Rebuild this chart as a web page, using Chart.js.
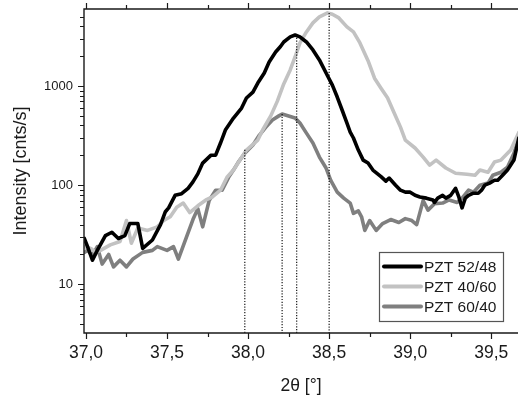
<!DOCTYPE html>
<html>
<head>
<meta charset="utf-8">
<script src="https://cdn.jsdelivr.net/npm/chart.js@4"></script>
<style>
  html, body { margin: 0; padding: 0; background: #fff; }
  #wrap { width: 518px; height: 400px; position: relative; }
</style>
</head>
<body>
<div id="wrap"><canvas id="xrd"></canvas></div>
<script>
// PZT 52/48
const angles5248 = [36.99,37.01,37.04,37.07,37.12,37.16,37.20,37.24,37.27,37.32,37.35,37.41,37.46,37.49,37.51,37.55,37.59,37.63,37.66,37.69,37.72,37.77,37.80,37.83,37.86,37.91,37.96,37.99,38.03,38.06,38.10,38.13,38.17,38.20,38.22,38.26,38.29,38.32,38.36,38.40,38.44,38.49,38.52,38.55,38.58,38.61,38.63,38.65,38.68,38.71,38.74,38.77,38.82,38.85,38.87,38.91,38.94,38.97,39.00,39.03,39.06,39.10,39.14,39.15,39.17,39.20,39.22,39.25,39.28,39.30,39.32,39.34,39.36,39.39,39.42,39.44,39.46,39.49,39.52,39.54,39.57,39.60,39.64,39.67];
const counts5248 = [29,24,17.5,22,31,33.5,29,31,41,41,23,28,40,54,59,79,82,93,108,130,167,200,201,266,360,475,600,757,869,1072,1353,1750,2200,2500,2780,3130,3270,3130,2780,2310,1833,1270,1020,774,573,423,343,299,226,179,167,142,122,110,118,100,89,85,85,79,76,74,71,67,74,79,74,79,93,76,59,74,79,83,83,89,100,105,112,112,126,142,179,300];

// PZT 40/60
const angles4060 = [36.99,37.03,37.06,37.09,37.15,37.21,37.25,37.28,37.32,37.38,37.44,37.48,37.52,37.56,37.60,37.64,37.69,37.74,37.78,37.83,37.87,37.91,37.95,37.99,38.06,38.09,38.14,38.18,38.22,38.26,38.29,38.32,38.36,38.40,38.44,38.49,38.52,38.56,38.61,38.65,38.69,38.74,38.78,38.82,38.86,38.90,38.94,38.97,39.03,39.08,39.12,39.16,39.22,39.28,39.35,39.40,39.43,39.48,39.52,39.56,39.62,39.67];
const counts4060 = [24,23,21,22,25,27,44,26,37,35,38,44,48,60,66,53,62,71,76,89,120,142,179,226,285,360,500,700,1050,1452,1963,2720,3510,4330,4980,5460,5300,4860,3950,3510,2720,1800,1200,950,760,540,385,285,237,192,159,179,149,132,129,126,142,135,171,179,226,340];

// PZT 60/40
const angles6040 = [36.99,37.01,37.04,37.07,37.10,37.14,37.17,37.21,37.25,37.29,37.35,37.41,37.44,37.50,37.54,37.57,37.62,37.66,37.69,37.72,37.76,37.80,37.84,37.88,37.91,37.94,37.98,38.03,38.07,38.11,38.15,38.19,38.21,38.25,38.29,38.32,38.36,38.40,38.44,38.48,38.51,38.55,38.59,38.63,38.65,38.68,38.70,38.72,38.75,38.79,38.83,38.88,38.93,38.97,39.01,39.04,39.08,39.11,39.15,39.20,39.24,39.29,39.32,39.36,39.39,39.43,39.48,39.51,39.56,39.60,39.64,39.67];
const counts6040 = [21,22,19.6,24,16,20,15,17.5,15,18,21,22,24,22,24,18,30,45,58,38,70,89,89,120,142,171,210,254,320,385,454,500,521,498,475,423,335,266,192,150,112,85,74,66,52,55,48,35,44,35,41,45,42,46,44,40,70,56,65,66,71,67,74,89,85,100,105,126,135,152,210,300];

// dotted peak markers
const peakAngles = [37.98, 38.21, 38.30, 38.50];
const peakCounts = [228, 521, 3270, 5460];

const seriesLabels = ['PZT 52/48', 'PZT 40/60', 'PZT 60/40'];
const seriesColors = ['#000000', '#c2c2c2', '#7f7f7f'];
const xTicks = [37.0, 37.5, 38.0, 38.5, 39.0, 39.5];
const yTicks = [10, 100, 1000];

const X_MIN = 36.988, X_MAX = 39.665;
const Y_MIN = 3.23, Y_MAX = 5980;
const FONT = "'Liberation Sans', Arial, sans-serif";
const INK = '#1a1a1a';

Chart.defaults.font.family = FONT;
Chart.defaults.color = INK;

const toPoints = (xs, ys) => xs.map((a, i) => ({ x: a, y: ys[i] }));

const curves = [
  toPoints(angles5248, counts5248),
  toPoints(angles4060, counts4060),
  toPoints(angles6040, counts6040)
].map((pts, i) => ({
  label: seriesLabels[i],
  data: pts,
  borderColor: seriesColors[i],
  borderWidth: 3.6,
  borderJoinStyle: 'round',
  borderCapStyle: 'round',
  pointRadius: 0,
  tension: 0,
  order: i + 1
}));

const markers = peakAngles.map((a, i) => ({
  label: 'peak',
  data: [{ x: a, y: peakCounts[i] }, { x: a, y: Y_MIN }],
  borderColor: '#000',
  borderWidth: 1.1,
  borderDash: [1.2, 1.6],
  pointRadius: 0,
  order: 0
}));

// frame, outward tick marks and boxed legend
const framePlugin = {
  id: 'frame',
  afterDraw(chart) {
    const { ctx, chartArea: a, scales: { x, y } } = chart;
    ctx.save();
    ctx.strokeStyle = INK;
    ctx.lineWidth = 1.4;
    ctx.beginPath();
    ctx.moveTo(a.right, a.top); ctx.lineTo(a.left, a.top);
    ctx.lineTo(a.left, a.bottom); ctx.lineTo(a.right, a.bottom);
    ctx.stroke();

    ctx.lineWidth = 1.2;
    ctx.beginPath();
    for (let v = 37.0; v < X_MAX; v += 0.25) {
      const px = Math.round(x.getPixelForValue(v)) + 0.5;
      const major = Math.abs(v * 2 - Math.round(v * 2)) < 1e-6;
      const len = major ? 6 : 4;
      ctx.moveTo(px, a.bottom); ctx.lineTo(px, a.bottom + len);
      ctx.moveTo(px, a.top); ctx.lineTo(px, a.top - len);
    }
    for (let d = 1; d <= 1000; d *= 10) {
      for (let m = 1; m <= 9; m++) {
        const v = m * d;
        if (v < Y_MIN || v > Y_MAX) continue;
        const py = Math.round(y.getPixelForValue(v)) + 0.5;
        const len = m === 1 ? 6 : 4;
        ctx.moveTo(a.left, py); ctx.lineTo(a.left - len, py);
      }
    }
    ctx.stroke();

    // legend box
    const bw = 124, bh = 69;
    const bx = a.right - 15 - bw, by = a.bottom - 12 - bh;
    ctx.fillStyle = '#fff';
    ctx.fillRect(bx, by, bw, bh);
    ctx.strokeStyle = '#555';
    ctx.lineWidth = 1.2;
    ctx.strokeRect(bx + 0.5, by + 0.5, bw, bh);
    ctx.font = '15.5px ' + FONT;
    ctx.textBaseline = 'middle';
    seriesLabels.forEach((lab, i) => {
      const ry = by + 14.5 + i * 20;
      ctx.strokeStyle = seriesColors[i];
      ctx.lineWidth = 4;
      ctx.lineCap = 'round';
      ctx.beginPath();
      ctx.moveTo(bx + 5, ry); ctx.lineTo(bx + 42, ry);
      ctx.stroke();
      ctx.fillStyle = INK;
      ctx.fillText(lab, bx + 45, ry + 1);
    });
    ctx.restore();
  }
};

new Chart(document.getElementById('xrd'), {
  type: 'line',
  data: { datasets: [...curves, ...markers] },
  options: {
    responsive: true,
    maintainAspectRatio: false,
    animation: false,
    layout: { padding: { top: 9, right: 0, bottom: 0, left: 0 } },
    plugins: { legend: { display: false }, tooltip: { enabled: false } },
    scales: {
      x: {
        type: 'linear',
        min: X_MIN,
        max: X_MAX,
        grid: { display: false, drawTicks: false },
        border: { display: false },
        afterBuildTicks: s => { s.ticks = xTicks.map(v => ({ value: v })); },
        afterFit: s => { s.height = 67; s.paddingLeft = 0; s.paddingRight = 0; },
        ticks: {
          padding: 10,
          maxRotation: 0,
          font: { size: 17.5 },
          color: INK,
          callback: v => v.toFixed(1).replace('.', ',')
        },
        title: {
          display: true,
          text: '2θ [°]',
          font: { size: 17.5 },
          color: INK,
          padding: { top: 0, bottom: 3 }
        }
      },
      y: {
        type: 'logarithmic',
        min: Y_MIN,
        max: Y_MAX,
        grid: { display: false, drawTicks: false },
        border: { display: false },
        afterBuildTicks: s => { s.ticks = yTicks.map(v => ({ value: v })); },
        afterFit: s => { s.width = 84; s.paddingTop = 0; s.paddingBottom = 0; },
        ticks: {
          padding: 11,
          font: { size: 13 },
          color: INK,
          callback: v => String(v)
        },
        title: {
          display: true,
          text: 'Intensity [cnts/s]',
          font: { size: 18 },
          color: INK,
          padding: { top: 10, bottom: 0 }
        }
      }
    }
  },
  plugins: [framePlugin]
});
</script>
</body>
</html>
